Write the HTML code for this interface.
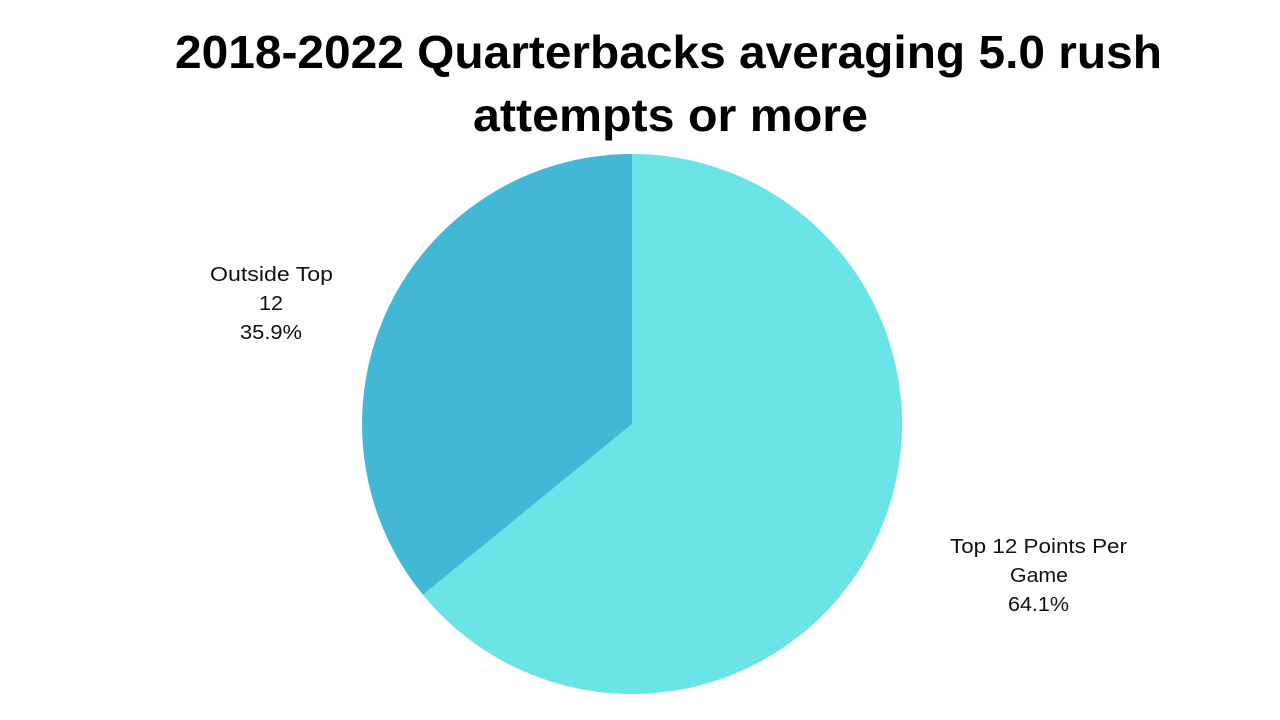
<!DOCTYPE html>
<html>
<head>
<meta charset="utf-8">
<style>
html,body{margin:0;padding:0;background:#fff;}
svg{display:block;}
</style>
</head>
<body>
<svg width="1280" height="720" viewBox="0 0 1280 720" xmlns="http://www.w3.org/2000/svg">
<rect width="1280" height="720" fill="#ffffff"/>
<text x="175" y="68" font-family="Liberation Sans, sans-serif" font-weight="bold" font-size="46" fill="#000" textLength="987" lengthAdjust="spacingAndGlyphs">2018-2022 Quarterbacks averaging 5.0 rush</text>
<text x="473" y="131" font-family="Liberation Sans, sans-serif" font-weight="bold" font-size="46" fill="#000" textLength="395" lengthAdjust="spacingAndGlyphs">attempts or more</text>
<path d="M632,424 L632,154 A270,270 0 1,1 422.94,594.8 Z" fill="#6ae4e7"/>
<path d="M632,424 L422.94,594.8 A270,270 0 0,1 632,154 Z" fill="#42b8d6"/>
<g font-family="Liberation Sans, sans-serif" font-size="20" fill="#111" text-anchor="middle">
<text x="271.5" y="281" textLength="123" lengthAdjust="spacingAndGlyphs">Outside Top</text>
<text x="271" y="310" textLength="24" lengthAdjust="spacingAndGlyphs">12</text>
<text x="271" y="339" textLength="62" lengthAdjust="spacingAndGlyphs">35.9%</text>
<text x="1038.5" y="553" textLength="177" lengthAdjust="spacingAndGlyphs">Top 12 Points Per</text>
<text x="1039" y="582" textLength="58" lengthAdjust="spacingAndGlyphs">Game</text>
<text x="1038.5" y="611" textLength="61" lengthAdjust="spacingAndGlyphs">64.1%</text>
</g>
</svg>
</body>
</html>
